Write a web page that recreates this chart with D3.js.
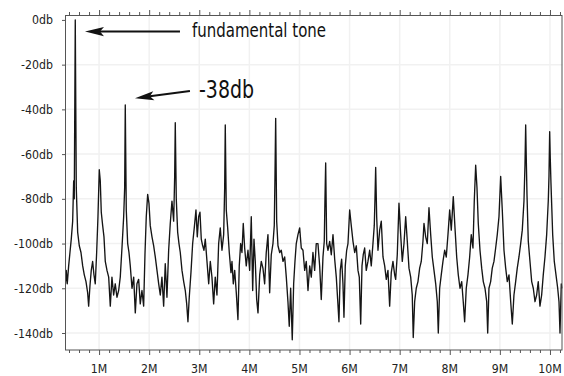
<!DOCTYPE html>
<html>
<head>
<meta charset="utf-8">
<script src="https://cdn.jsdelivr.net/npm/d3@7/dist/d3.min.js"></script>
<style>
  html, body { margin: 0; padding: 0; background: #ffffff; }
  svg { display: block; font-family: "DejaVu Sans", Verdana, sans-serif; }
</style>
</head>
<body>
<svg id="chart" width="564" height="376"></svg>
<script>
// ---------------- data ----------------
const freqMHz = [
  0.325,0.345,0.365,0.393,0.419,0.445,0.473,0.493,0.505,0.525,0.545,0.573,0.605,0.639,0.673,0.705,0.739,0.772,0.792,0.818,
  0.844,0.872,0.898,0.924,0.952,0.978,1.004,1.024,1.044,1.072,1.098,1.124,1.158,1.192,1.224,1.257,1.291,1.323,1.357,1.391,
  1.423,1.457,1.491,1.511,1.523,1.543,1.571,1.597,1.623,1.657,1.691,1.723,1.756,1.790,1.822,1.856,1.890,1.916,1.942,1.970,
  1.996,2.022,2.056,2.090,2.122,2.156,2.190,2.222,2.255,2.289,2.321,2.355,2.389,2.421,2.455,2.489,2.509,2.521,2.541,2.569,
  2.595,2.621,2.655,2.689,2.721,2.749,2.774,2.800,2.834,2.868,2.900,2.934,2.960,2.988,3.014,3.040,3.068,3.094,3.120,3.154,
  3.188,3.220,3.253,3.287,3.319,3.353,3.387,3.419,3.453,3.487,3.507,3.519,3.539,3.567,3.599,3.633,
  3.653,3.679,3.707,3.739,3.772,3.798,3.826,3.852,3.878,3.906,3.938,3.972,4.006,4.038,4.066,4.092,4.118,4.146,4.172,4.206,
  4.238,4.271,4.305,4.337,4.371,4.405,4.437,4.471,4.497,4.511,4.525,4.545,4.571,4.605,4.637,4.671,4.705,4.737,4.770,4.796,
  4.824,4.856,4.884,4.910,4.936,4.970,5.004,5.036,5.070,5.104,5.136,5.170,5.204,5.236,5.269,5.303,5.335,5.369,5.403,5.435,
  5.469,5.495,5.509,5.523,5.543,5.569,5.603,5.635,5.669,5.703,5.735,5.762,5.788,5.814,5.842,5.868,5.888,5.914,5.942,5.968,
  6.002,6.034,6.068,6.102,6.134,6.168,6.194,6.222,6.248,6.273,6.301,6.333,6.367,6.401,6.433,6.467,6.493,6.507,6.521,6.541,
  6.567,6.601,6.633,6.667,6.701,6.733,6.766,6.800,6.832,6.866,6.900,
  6.920,6.952,6.986,7.020,7.052,7.086,7.120,7.152,7.186,7.220,7.251,7.271,7.299,7.331,7.365,7.399,7.431,7.465,7.485,7.519,
  7.551,7.585,7.619,7.651,7.685,7.719,7.751,7.771,7.798,7.830,7.864,7.898,7.930,7.964,7.998,8.030,8.070,8.104,8.138,8.170,
  8.204,8.238,8.269,8.297,8.329,8.363,8.397,8.429,8.463,8.489,8.517,8.543,8.569,8.603,8.637,8.669,8.703,8.737,8.757,8.782,
  8.816,8.848,8.882,8.916,8.948,8.982,9.016,9.048,9.082,9.116,9.148,9.182,9.216,9.248,9.281,9.315,9.347,9.381,9.415,9.447,
  9.481,9.501,9.515,9.527,9.541,9.567,9.601,9.635,9.667,9.701,9.734,9.766,9.800,9.834,9.866,9.900,9.934,9.966,9.980,9.994,
  10.006,10.020,10.054,10.086,10.120,10.154,10.180,10.200,10.226,10.246
];
const levelDb = [
  -119,-112,-118,-110,-104,-98,-90,-72,-80,0,-75,-95,-101,-104,-110,-114,-117,-122,-128,-119,
  -112,-108,-114,-118,-104,-88,-67,-72,-86,-92,-97,-108,-112,-115,-128,-115,-123,-118,-124,-121,
  -115,-102,-88,-75,-38,-85,-100,-104,-110,-120,-115,-131,-118,-116,-127,-121,-128,-105,-88,-78,
  -82,-92,-97,-101,-106,-112,-118,-123,-115,-128,-109,-124,-103,-91,-81,-90,-70,-46,-80,-95,
  -100,-104,-112,-117,-121,-127,-135,-124,-113,-100,-93,-85,-97,-88,-86,-98,-101,-103,-98,-108,
  -118,-108,-115,-127,-115,-123,-100,-93,-103,-96,-75,-47,-85,-93,-104,-113,
  -108,-118,-112,-122,-134,-110,-100,-104,-91,-102,-110,-103,-112,-88,-121,-98,-108,-125,-131,-114,
  -108,-111,-118,-104,-96,-122,-105,-100,-92,-70,-44,-90,-101,-104,-103,-108,-106,-115,-126,-137,
  -120,-143,-118,-108,-100,-96,-93,-102,-103,-112,-108,-121,-110,-115,-104,-112,-100,-100,-110,-125,
  -106,-99,-80,-64,-100,-103,-99,-105,-96,-107,-115,-125,-135,-112,-107,-118,-133,-110,-103,-100,
  -85,-92,-99,-104,-101,-112,-115,-136,-110,-105,-102,-112,-108,-103,-110,-100,-92,-80,-66,-88,
  -103,-94,-90,-106,-110,-116,-112,-128,-113,-108,-114,
  -116,-105,-82,-96,-108,-100,-88,-99,-111,-115,-123,-142,-126,-120,-117,-111,-108,-99,-91,-97,
  -100,-84,-96,-106,-112,-118,-126,-140,-120,-114,-108,-103,-106,-96,-85,-94,-79,-93,-106,-114,
  -120,-117,-126,-135,-120,-114,-106,-96,-102,-81,-65,-75,-91,-103,-111,-117,-120,-126,-140,-120,
  -117,-111,-108,-102,-96,-88,-70,-85,-103,-111,-117,-114,-126,-136,-123,-117,-111,-106,-100,-94,
  -81,-65,-47,-62,-78,-99,-108,-117,-120,-126,-123,-117,-128,-123,-114,-106,-96,-81,-70,-50,
  -62,-73,-96,-108,-114,-120,-126,-140,-118,-120
];

const xMajorTicks = [1, 2, 3, 4, 5, 6, 7, 8, 9, 10];
const xTickLabels = ["1M", "2M", "3M", "4M", "5M", "6M", "7M", "8M", "9M", "10M"];
const yTickValues = [0, -20, -40, -60, -80, -100, -120, -140];
const yTickLabels = ["0db", "-20db", "-40db", "-60db", "-80db", "-100db", "-120db", "-140db"];

// annotations: arrow tail/tip and text anchor in data units (MHz, dB)
const annotationText = ["fundamental tone", "-38db"];
const arrowTail = [[2.615, -5.2], [2.814, -31.8]];
const arrowTip  = [[0.719, -5.2], [1.717, -35.0]];
const textPos   = [[2.854, -7.8], [2.995, -34.9]];

// ---------------- drawing ----------------
const svg = d3.select("#chart");
const W = 564, H = 376;
const pL = 65, pR = 562.5, pT = 15, pB = 350;

const x = d3.scaleLinear().domain([0.32, 10.25]).range([pL, pR]);
const y = d3.scaleLinear().domain([-147.6, 2.2]).range([pB, pT]);

svg.append("rect").attr("width", W).attr("height", H).attr("fill", "#ffffff");

// faint grid
const grid = svg.append("g").attr("stroke", "#f1f1f1").attr("stroke-width", 1.5);
grid.selectAll("line.v").data(xMajorTicks).join("line").attr("class", "v")
  .attr("x1", d => x(d)).attr("x2", d => x(d))
  .attr("y1", pT).attr("y2", pB);
grid.selectAll("line.h").data(yTickValues.filter(v => v !== 0)).join("line").attr("class", "h")
  .attr("x1", pL).attr("x2", pR)
  .attr("y1", d => y(d)).attr("y2", d => y(d));

// clip for the trace
svg.append("clipPath").attr("id", "plotclip")
  .append("rect").attr("x", pL).attr("y", pT - 1).attr("width", pR - pL).attr("height", pB - pT + 1);

const points = freqMHz.map((f, i) => [f, levelDb[i]]);
const line = d3.line().x(d => x(d[0])).y(d => y(d[1]));
svg.append("path")
  .datum(points)
  .attr("clip-path", "url(#plotclip)")
  .attr("fill", "none")
  .attr("stroke", "#151515")
  .attr("stroke-width", 1.35)
  .attr("stroke-linejoin", "round")
  .attr("d", line);

// frame
svg.append("rect")
  .attr("x", pL + 0.5).attr("y", pT + 0.5)
  .attr("width", pR - pL - 1).attr("height", pB - pT - 0.5)
  .attr("fill", "none").attr("stroke", "#555").attr("stroke-width", 1);

// minor tick values every 0.2M
const xMinorTicks = d3.range(2, 52).map(i => i * 0.2).filter(v => v >= 0.33 && v <= 10.25 && Math.abs(v - Math.round(v)) > 1e-6);

function styleAxis(g) {
  g.select(".domain").remove();
  g.selectAll(".tick line").attr("stroke", "#555");
  g.selectAll(".tick text").remove();
}

// bottom ticks
svg.append("g").attr("transform", `translate(0,${pB})`)
  .call(d3.axisBottom(x).tickValues(xMinorTicks).tickSize(3).tickFormat(""))
  .call(styleAxis);
svg.append("g").attr("transform", `translate(0,${pB})`)
  .call(d3.axisBottom(x).tickValues(xMajorTicks).tickSize(5).tickFormat(""))
  .call(styleAxis);
// top ticks
svg.append("g").attr("transform", `translate(0,${pT})`)
  .call(d3.axisTop(x).tickValues(xMinorTicks).tickSize(3).tickFormat(""))
  .call(styleAxis);
svg.append("g").attr("transform", `translate(0,${pT})`)
  .call(d3.axisTop(x).tickValues(xMajorTicks).tickSize(5).tickFormat(""))
  .call(styleAxis);
// left ticks
svg.append("g").attr("transform", `translate(${pL},0)`)
  .call(d3.axisLeft(y).tickValues(yTickValues).tickSize(3).tickFormat(""))
  .call(styleAxis);

// x labels
svg.append("g").selectAll("text").data(xMajorTicks).join("text")
  .attr("transform", d => `translate(${x(d)},373) scale(1,1.15)`)
  .attr("text-anchor", "middle")
  .attr("font-size", 11)
  .attr("fill", "#222")
  .text((d, i) => xTickLabels[i]);

// y labels
svg.append("g").selectAll("text").data(yTickValues).join("text")
  .attr("transform", d => `translate(53,${y(d) + 4.5}) scale(1,1.15)`)
  .attr("text-anchor", "end")
  .attr("font-size", 11)
  .attr("fill", "#222")
  .text((d, i) => yTickLabels[i]);

// annotations: arrows
const ann = svg.append("g");
arrowTail.forEach((tail, i) => {
  const tip = arrowTip[i];
  const x0 = x(tail[0]), y0 = y(tail[1]);
  const x1 = x(tip[0]), y1 = y(tip[1]);
  const dx = x1 - x0, dy = y1 - y0;
  const len = Math.hypot(dx, dy);
  const ux = dx / len, uy = dy / len;
  const px = -uy, py = ux;
  const headLen = 19, headW = 4.6, notch = 4;
  const bx = x1 - ux * headLen, by = y1 - uy * headLen;
  const nx = x1 - ux * (headLen - notch), ny = y1 - uy * (headLen - notch);
  ann.append("line")
    .attr("x1", x0).attr("y1", y0)
    .attr("x2", nx).attr("y2", ny)
    .attr("stroke", "#111").attr("stroke-width", 2);
  ann.append("path")
    .attr("d", `M${x1},${y1} L${bx + px * headW},${by + py * headW} L${nx},${ny} L${bx - px * headW},${by - py * headW} Z`)
    .attr("fill", "#111");
});

// annotation texts
const textSize = [15, 19];
const textStretch = [1.25, 1.3];
annotationText.forEach((t, i) => {
  ann.append("text")
    .attr("transform", `translate(${x(textPos[i][0])},${y(textPos[i][1])}) scale(1,${textStretch[i]})`)
    .attr("font-size", textSize[i])
    .attr("fill", "#111")
    .text(t);
});
</script>
</body>
</html>
